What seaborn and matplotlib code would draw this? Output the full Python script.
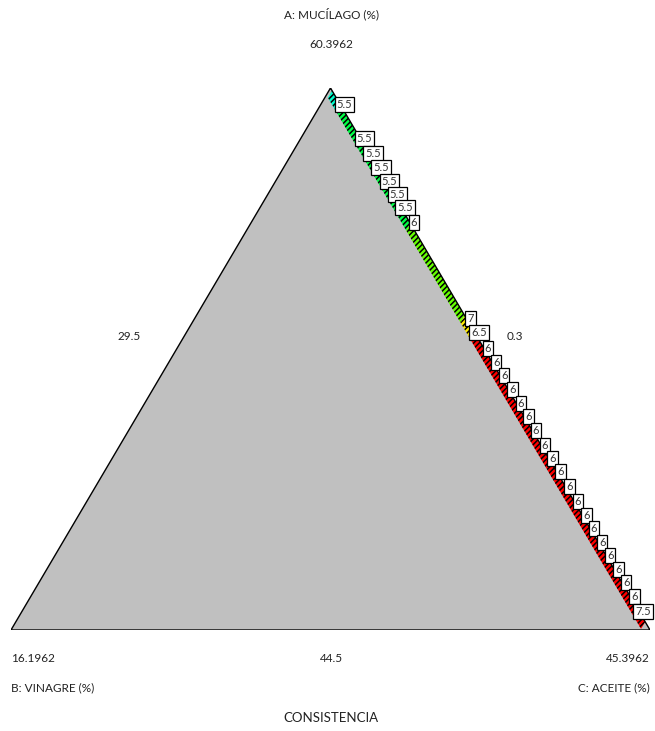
import matplotlib
matplotlib.use("Agg")
import matplotlib.pyplot as plt
import numpy as np
import pandas as pd
import seaborn as sns
from matplotlib.colors import Normalize

# Contour labels along the Mucílago–Aceite edge (vinagre at its lower bound)
label_values = [5.5, 5.5, 5.5, 5.5, 5.5, 5.5, 5.5, 6,
                7, 6.5,
                6, 6, 6, 6, 6, 6, 6, 6, 6, 6, 6, 6, 6, 6, 6, 6, 6, 6, 6,
                7.5]
label_aceite = [0.031, 0.094, 0.120, 0.146, 0.172, 0.197, 0.221, 0.249,
                0.426, 0.452,
                0.480, 0.506, 0.531, 0.557, 0.583, 0.607, 0.631, 0.659, 0.683,
                0.708, 0.736, 0.762, 0.788, 0.812, 0.838, 0.863, 0.889, 0.913,
                0.939,
                0.965]

# Response band inside the feasible region (pseudo-component aceite fraction)
band_aceite = [0.005, 0.035, 0.25, 0.42, 0.45, 0.985]
band_response = [5.4, 5.8, 6.3, 6.8, 7.6]
band_vinagre = 0.013

# Axis annotations
title_a = "A: MUCÍLAGO (%)"
title_b = "B: VINAGRE (%)"
title_c = "C: ACEITE (%)"
vertex_a, vertex_b, vertex_c = "60.3962", "16.1962", "45.3962"
mid_ab, mid_ac, mid_bc = "29.5", "0.3", "44.5"
response_name = "CONSISTENCIA"

sns.set_theme(style="white")
plt.rcParams["font.family"] = ["Lato", "DejaVu Sans"]
plt.rcParams["hatch.color"] = "black"
plt.rcParams["hatch.linewidth"] = 1.1

W, H = 655, 731
fig = plt.figure(figsize=(W / 100, H / 100), dpi=100)
fig.patch.set_facecolor("white")
ax = fig.add_axes([11 / W, 101 / H, 639 / W, 542 / H])


def tern(a, b, c):
    """Pseudo-component fractions -> Cartesian (A top, B left, C right)."""
    a, b, c = np.asarray(a, float), np.asarray(b, float), np.asarray(c, float)
    return c + a / 2.0, a


# Triangle region
verts = pd.DataFrame({"a": [1, 0, 0, 1], "b": [0, 1, 0, 0], "c": [0, 0, 1, 0]})
tx, ty = tern(verts["a"], verts["b"], verts["c"])
ax.fill(tx, ty, color="#c0c0c0", zorder=1, lw=0)

# Coloured response band with dense contour hatching
cmap = sns.blend_palette(["#0000ff", "#00ffff", "#00ff00", "#ffff00", "#ff0000"],
                         as_cmap=True)
norm = Normalize(4.5, 7.5)
for c0, c1, val in zip(band_aceite[:-1], band_aceite[1:], band_response):
    w = band_vinagre
    pa = [1 - c0, 1 - c1, 1 - c1 - w, 1 - c0 - w]
    pb = [0, 0, w, w]
    pc = [c0, c1, c1, c0]
    px, py = tern(pa, pb, pc)
    ax.fill(px, py, facecolor=cmap(norm(val)), edgecolor="black", lw=0,
            hatch="//////", zorder=2)

# Triangle outline
outline = pd.DataFrame({"x": tx, "y": ty})
sns.lineplot(data=outline, x="x", y="y", sort=False, color="black", lw=1.0,
             ax=ax, zorder=3, estimator=None)
ax.set_xlim(0, 1)
ax.set_ylim(0, 1)
ax.axis("off")

# Contour labels
lab_c = np.array(label_aceite)
lx, ly = tern(1 - lab_c, np.zeros_like(lab_c), lab_c)
for x, y, v in zip(lx, ly, label_values):
    ax.annotate(f"{v:g}", xy=(x, y), xytext=(4, 0), textcoords="offset pixels",
                ha="center", va="center", fontsize=8, color="#333333",
                zorder=5,
                bbox=dict(boxstyle="square,pad=0.18", fc="white", ec="black",
                          lw=0.9))


# Axis texts
def ftext(px, py, s, ha="center", size=8.5):
    fig.text(px / W, 1 - py / H, s, ha=ha, va="center", fontsize=size,
             color="#222222")


ftext(331, 14, title_a)
ftext(331, 45, vertex_a)
ftext(129, 337, mid_ab)
ftext(515, 337, mid_ac)
ftext(11, 658, vertex_b, ha="left")
ftext(331, 658, mid_bc)
ftext(650, 658, vertex_c, ha="right")
ftext(11, 688, title_b, ha="left")
ftext(650, 688, title_c, ha="right")
ftext(331, 718, response_name, size=9.5)

fig.savefig("out.png", dpi=100, facecolor="white")
